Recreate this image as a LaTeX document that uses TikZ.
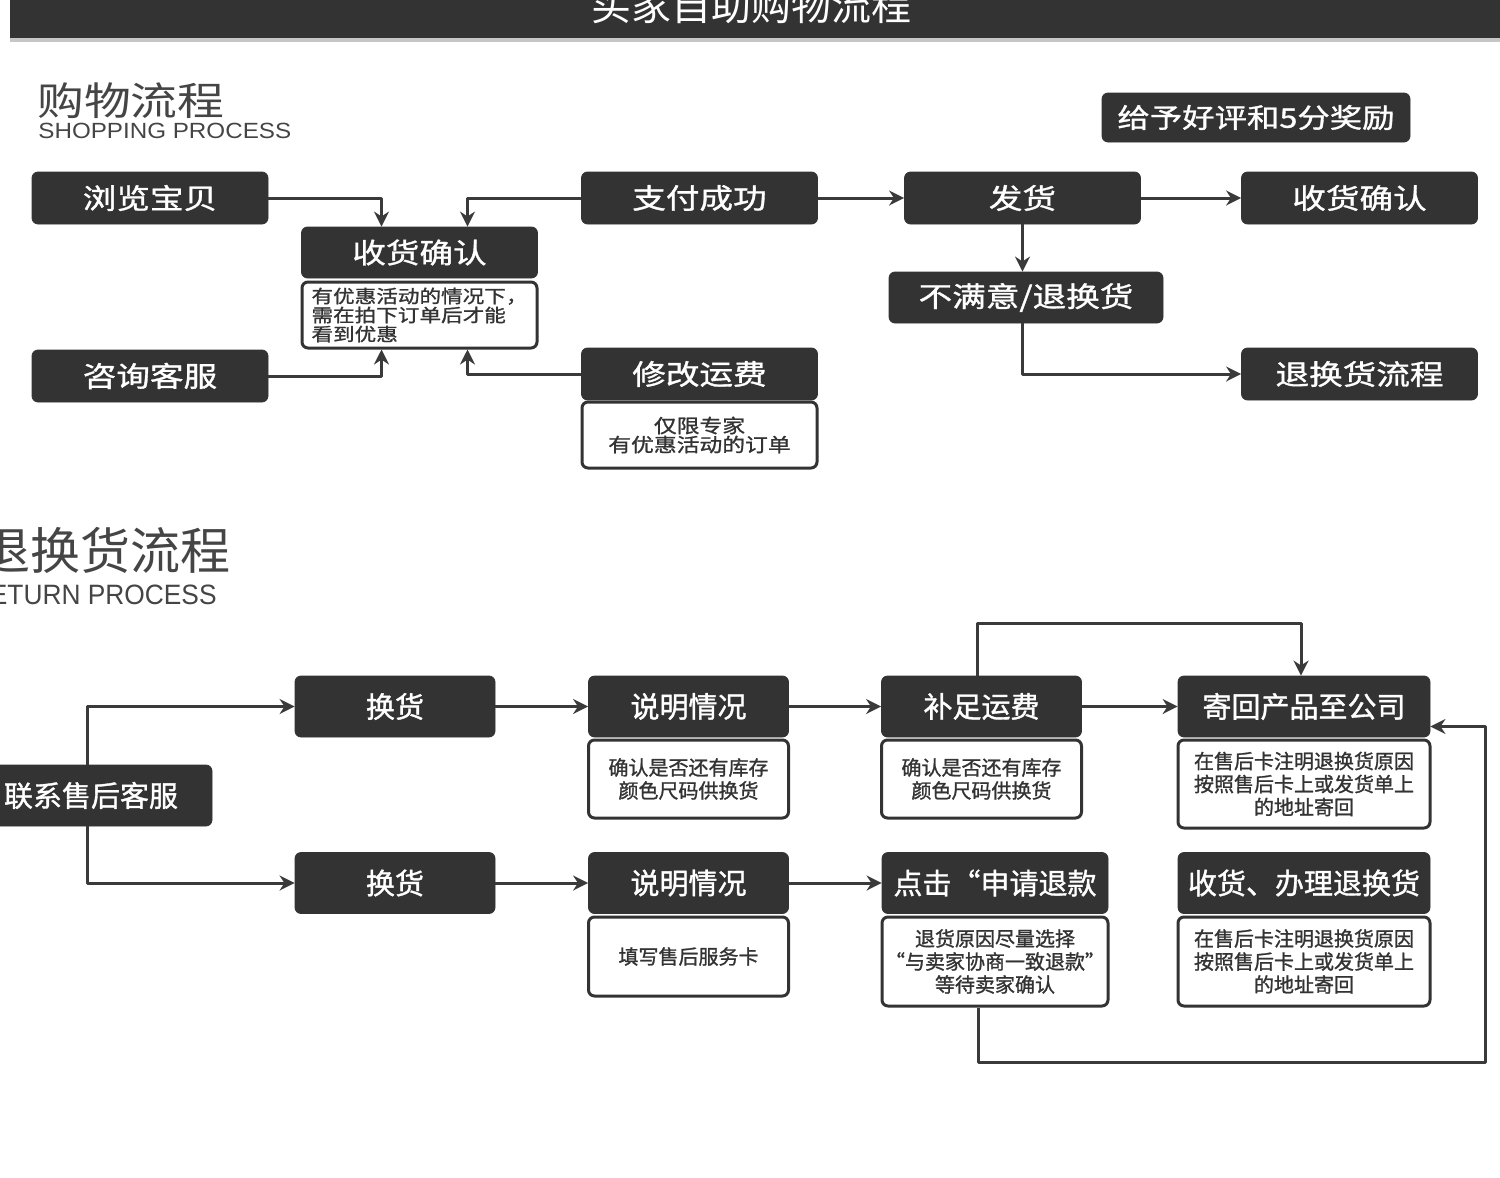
\documentclass[tikz,border=0pt]{standalone}
\usepackage{fontspec}
\usetikzlibrary{arrows.meta}
\setmainfont{Noto Sans CJK SC}
\newfontfamily\cjk{Noto Sans CJK SC}
\newfontfamily\cjkb[FakeBold=1.2]{Noto Sans CJK SC}
\newfontfamily\cjkw[FakeStretch=1.2]{Noto Sans CJK SC}
\newfontfamily\cjkwb[FakeStretch=1.2,FakeBold=1.2]{Noto Sans CJK SC}
\newfontfamily\latw[FakeStretch=1.1]{Liberation Sans}
\newfontfamily\latn[FakeStretch=0.94]{Liberation Sans}
\definecolor{boxgray}{HTML}{333333}
\definecolor{linegray}{HTML}{3A3A3A}
\definecolor{titlegray}{HTML}{454545}
\begin{document}
\begin{tikzpicture}[x=0.5pt,y=-0.5pt,line join=round,>={Stealth[length=7.5pt,width=7.5pt]},
blk/.style={fill=boxgray,draw=boxgray,rounded corners=3pt,text=white,inner sep=0pt,minimum width=118pt,minimum height=26pt,font=\cjkwb\fontsize{14}{16}\selectfont},
blkr/.style={blk,minimum width=100pt,minimum height=30.5pt,font=\cjkb\fontsize{14.5}{16}\selectfont},
note/.style={fill=white,draw=boxgray,line width=1.5pt,rounded corners=3pt,text=boxgray,inner sep=0pt,align=center,minimum width=117.5pt,minimum height=33pt,font=\cjkwb\fontsize{9}{9.5}\selectfont},
noter/.style={note,minimum width=100pt,minimum height=39pt,font=\cjkb\fontsize{10}{11.5}\selectfont},
arr/.style={->,draw=linegray,line width=1.5pt}]
\useasboundingbox (0,0) rectangle (1500,1178);
%%Tiêu đề
\fill[gray!45] (10,38) rectangle (1500,42);
\fill[boxgray] (10,0) rectangle (1500,38);
\node[text=white,font=\cjk\fontsize{20}{22}\selectfont,anchor=base] (maintitle) at (751,20) {买家自助购物流程};
\node[text=titlegray,font=\cjkw\fontsize{19.5}{20}\selectfont,anchor=base west,inner sep=0pt] (shoptitle) at (37,115) {购物流程};
\node[text=titlegray,font=\latw\fontsize{11}{12}\selectfont,anchor=base west,inner sep=0pt] (shopsub) at (38,138) {SHOPPING PROCESS};
\node[blk,minimum width=154pt,minimum height=24.5pt,font=\cjkwb\fontsize{13.5}{15}\selectfont] (bonus) at (1256,117.5) {给予好评和5分奖励};
%Quy trình mua hàng
\node[blk] (browse) at (150,198) {浏览宝贝};
\node[blk] (pay) at (699.5,198) {支付成功};
\node[blk] (ship) at (1022.5,198) {发货};
\node[blk] (done) at (1359.5,198) {收货确认};
\node[blk,minimum height=25.5pt] (recv) at (419.5,252.5) {收货确认};
\node[note,align=left] (recvnote) at (419.5,315) {有优惠活动的情况下，\\需在拍下订单后才能\\看到优惠};
\node[blk] (ask) at (150,376) {咨询客服};
\node[blk] (fee) at (699.5,374) {修改运费};
\node[note,font=\cjkwb\fontsize{9.5}{9.5}\selectfont] (feenote) at (699.5,435) {仅限专家\\有优惠活动的订单};
\node[blk,minimum width=137pt,minimum height=25.5pt] (unhappy) at (1026,297.5) {不满意/退换货};
\node[blk] (retflow) at (1359.5,374) {退换货流程};
\draw[arr] (browse.east) -| ([xshift=-19pt]recv.north);
\draw[arr] (pay.west) -| ([xshift=24pt]recv.north);
\draw[arr] (ask.east) -| ([xshift=-19pt]recvnote.south);
\draw[arr] (fee.west) -| ([xshift=24pt]recvnote.south);
\draw[arr] (pay.east) -- (ship.west);
\draw[arr] (ship.east) -- (done.west);
\draw[arr] (ship.south) -- (ship.south |- unhappy.north);
\draw[arr] (ship.south |- unhappy.south) |- (retflow.west);
%Quy trình đổi trả
\node[text=titlegray,font=\cjk\fontsize{25}{26}\selectfont,anchor=base east,inner sep=0pt] (rettitle) at (231,569) {退换货流程};
\node[text=titlegray,font=\latn\fontsize{14}{15}\selectfont,anchor=base east,inner sep=0pt] (retsub) at (217,604) {RETURN PROCESS};
\node[blkr,minimum width=121pt] (contact) at (91,795.5) {联系售后客服};
\node[blkr] (swapA) at (395,706.5) {换货};
\node[blkr] (swapB) at (395,883) {换货};
\node[blkr] (explA) at (688.5,706.5) {说明情况};
\node[noter] (explAnote) at (688.5,779) {确认是否还有库存\\颜色尺码供换货};
\node[blkr] (explB) at (688.5,883) {说明情况};
\node[noter,minimum height=39.5pt] (explBnote) at (688.5,956.5) {填写售后服务卡};
\node[blkr] (payfee) at (981.5,706.5) {补足运费};
\node[noter] (payfeenote) at (981.5,779) {确认是否还有库存\\颜色尺码供换货};
\node[blkr,minimum width=113pt] (refund) at (995,883) {点击“申请退款};
\node[noter,minimum width=113pt,minimum height=44.5pt] (refundnote) at (995,961.5) {退货原因尽量选择\\“与卖家协商一致退款”\\等待卖家确认};
\node[blkr,minimum width=126pt] (sendback) at (1304,706.5) {寄回产品至公司};
\node[noter,minimum width=126pt,minimum height=44pt] (sendbacknote) at (1304,784) {在售后卡注明退换货原因\\按照售后卡上或发货单上\\的地址寄回};
\node[blkr,minimum width=126pt] (handle) at (1304,883) {收货、办理退换货};
\node[noter,minimum width=126pt,minimum height=44.5pt] (handlenote) at (1304,961.5) {在售后卡注明退换货原因\\按照售后卡上或发货单上\\的地址寄回};
\draw[arr] ([xshift=-2pt]contact.north) |- (swapA.west);
\draw[arr] ([xshift=-2pt]contact.south) |- (swapB.west);
\draw[arr] (swapA.east) -- (explA.west);
\draw[arr] (explA.east) -- (payfee.west);
\draw[arr] (payfee.east) -- (sendback.west);
\draw[arr] (swapB.east) -- (explB.west);
\draw[arr] (explB.east) -- (refund.west);
\coordinate (loopT) at (1301,623);
\draw[arr] ([xshift=-2pt]payfee.north) |- (loopT) -- (loopT |- sendback.north);
\coordinate (loopB) at (1485,1062);
\draw[arr] ([xshift=-8.5pt]refundnote.south) |- (loopB) |- ([yshift=-10pt]sendback.east);
\end{tikzpicture}
\end{document}
